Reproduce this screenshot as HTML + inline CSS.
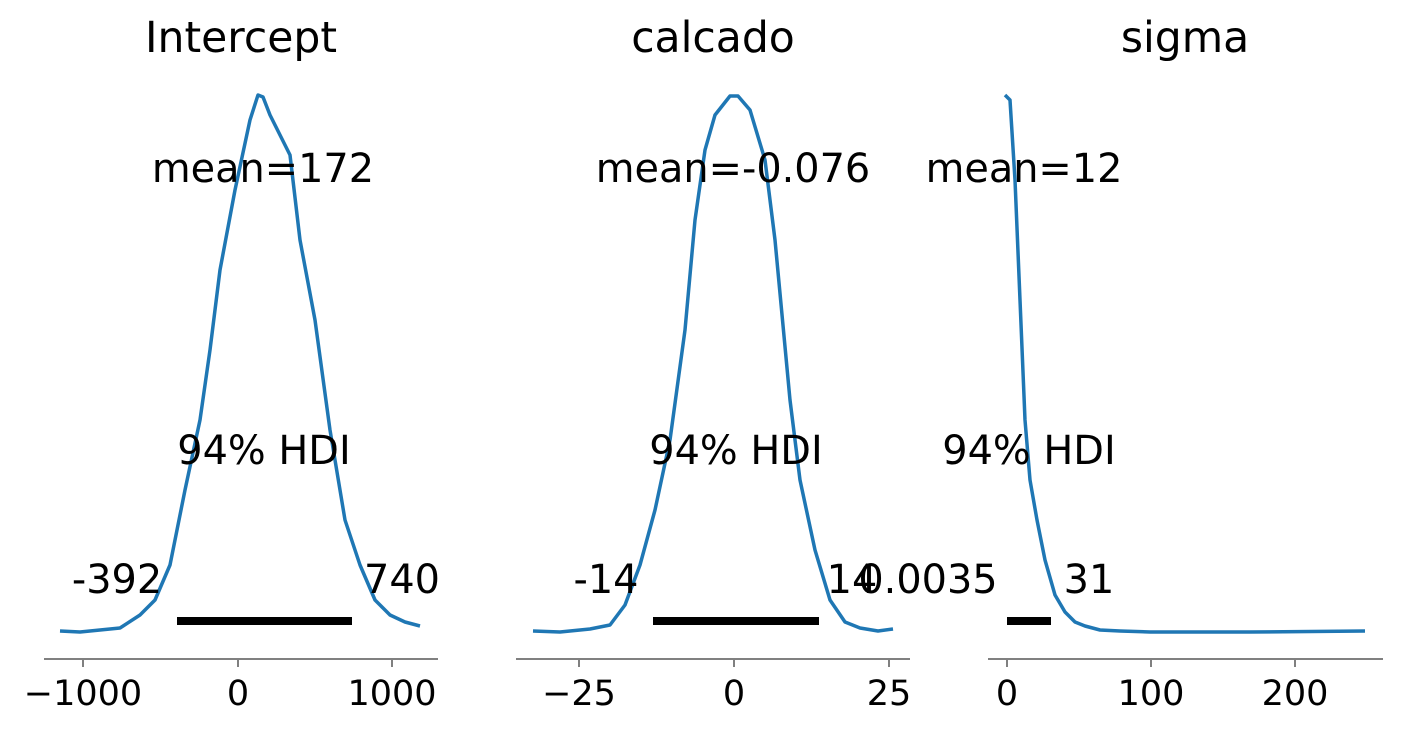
<!DOCTYPE html>
<html><head><meta charset="utf-8"><style>
body{margin:0;background:#fff;}
svg{display:block;font-family:"DejaVu Sans","Liberation Sans",sans-serif;}
.t{font-size:42.5px;text-anchor:middle;}
.a{font-size:39.8px;text-anchor:middle;}
.k{font-size:35px;text-anchor:middle;}
.c{fill:none;stroke:#1f77b4;stroke-width:3.5;stroke-linejoin:round;}
.ax{stroke:#808080;stroke-width:2;}
</style></head><body>
<svg width="1402" height="733" viewBox="0 0 1402 733">
<rect width="1402" height="733" fill="#fff"/>
<!-- Panel 1 -->
<text class="t" x="241" y="52">Intercept</text>
<path class="c" d="M60,631 L80,632 L100,630 L120,628 L140,615 L155,600 L170,565 L185,490 L200,420 L210,350 L220,270 L235,190 L250,120 L258,95 L263,97 L270,115 L280,135 L290,155 L300,240 L315,320 L330,430 L345,520 L360,565 L375,600 L390,615 L405,622 L420,626"/>
<line x1="177" y1="621" x2="352" y2="621" stroke="#000" stroke-width="8"/>
<text class="a" x="263" y="182">mean=172</text>
<text class="a" x="264" y="464">94% HDI</text>
<text class="a" x="117" y="593">-392</text>
<text class="a" x="402" y="593">740</text>
<line class="ax" x1="44" y1="659" x2="438" y2="659"/>
<g class="ax"><line x1="83" y1="659" x2="83" y2="667"/><line x1="238" y1="659" x2="238" y2="667"/><line x1="392" y1="659" x2="392" y2="667"/></g>
<text class="k" x="83" y="705">−1000</text><text class="k" x="238" y="705">0</text><text class="k" x="392" y="705">1000</text>
<!-- Panel 2 -->
<text class="t" x="713" y="52">calcado</text>
<path class="c" d="M533,631 L560,632 L590,629 L610,625 L625,605 L640,565 L655,510 L670,440 L685,330 L695,220 L705,150 L715,115 L730,96 L738,96 L750,110 L765,160 L775,240 L790,400 L800,480 L815,550 L830,600 L845,622 L860,628 L878,631 L893,629"/>
<line x1="653" y1="621" x2="819" y2="621" stroke="#000" stroke-width="8"/>
<text class="a" x="733" y="182">mean=-0.076</text>
<text class="a" x="736" y="464">94% HDI</text>
<text class="a" x="606" y="593">-14</text>
<text class="a" x="852" y="593">14</text>
<line class="ax" x1="516" y1="659" x2="910" y2="659"/>
<g class="ax"><line x1="579" y1="659" x2="579" y2="667"/><line x1="734" y1="659" x2="734" y2="667"/><line x1="889" y1="659" x2="889" y2="667"/></g>
<text class="k" x="579" y="705">−25</text><text class="k" x="734" y="705">0</text><text class="k" x="889" y="705">25</text>
<!-- Panel 3 -->
<text class="t" x="1185" y="52">sigma</text>
<path class="c" d="M1005,95 L1010,100 L1015,180 L1020,300 L1025,420 L1030,480 L1037,520 L1045,560 L1055,595 L1065,612 L1075,622 L1085,626 L1100,630 L1120,631 L1150,632 L1250,632 L1365,631"/>
<line x1="1007" y1="621" x2="1051" y2="621" stroke="#000" stroke-width="8"/>
<text class="a" x="1024" y="182">mean=12</text>
<text class="a" x="1029" y="464">94% HDI</text>
<text class="a" x="928" y="593">0.0035</text>
<text class="a" x="1089" y="593">31</text>
<line class="ax" x1="988" y1="659" x2="1383" y2="659"/>
<g class="ax"><line x1="1007" y1="659" x2="1007" y2="667"/><line x1="1151" y1="659" x2="1151" y2="667"/><line x1="1295" y1="659" x2="1295" y2="667"/></g>
<text class="k" x="1007" y="705">0</text><text class="k" x="1151" y="705">100</text><text class="k" x="1295" y="705">200</text>
</svg>
</body></html>
